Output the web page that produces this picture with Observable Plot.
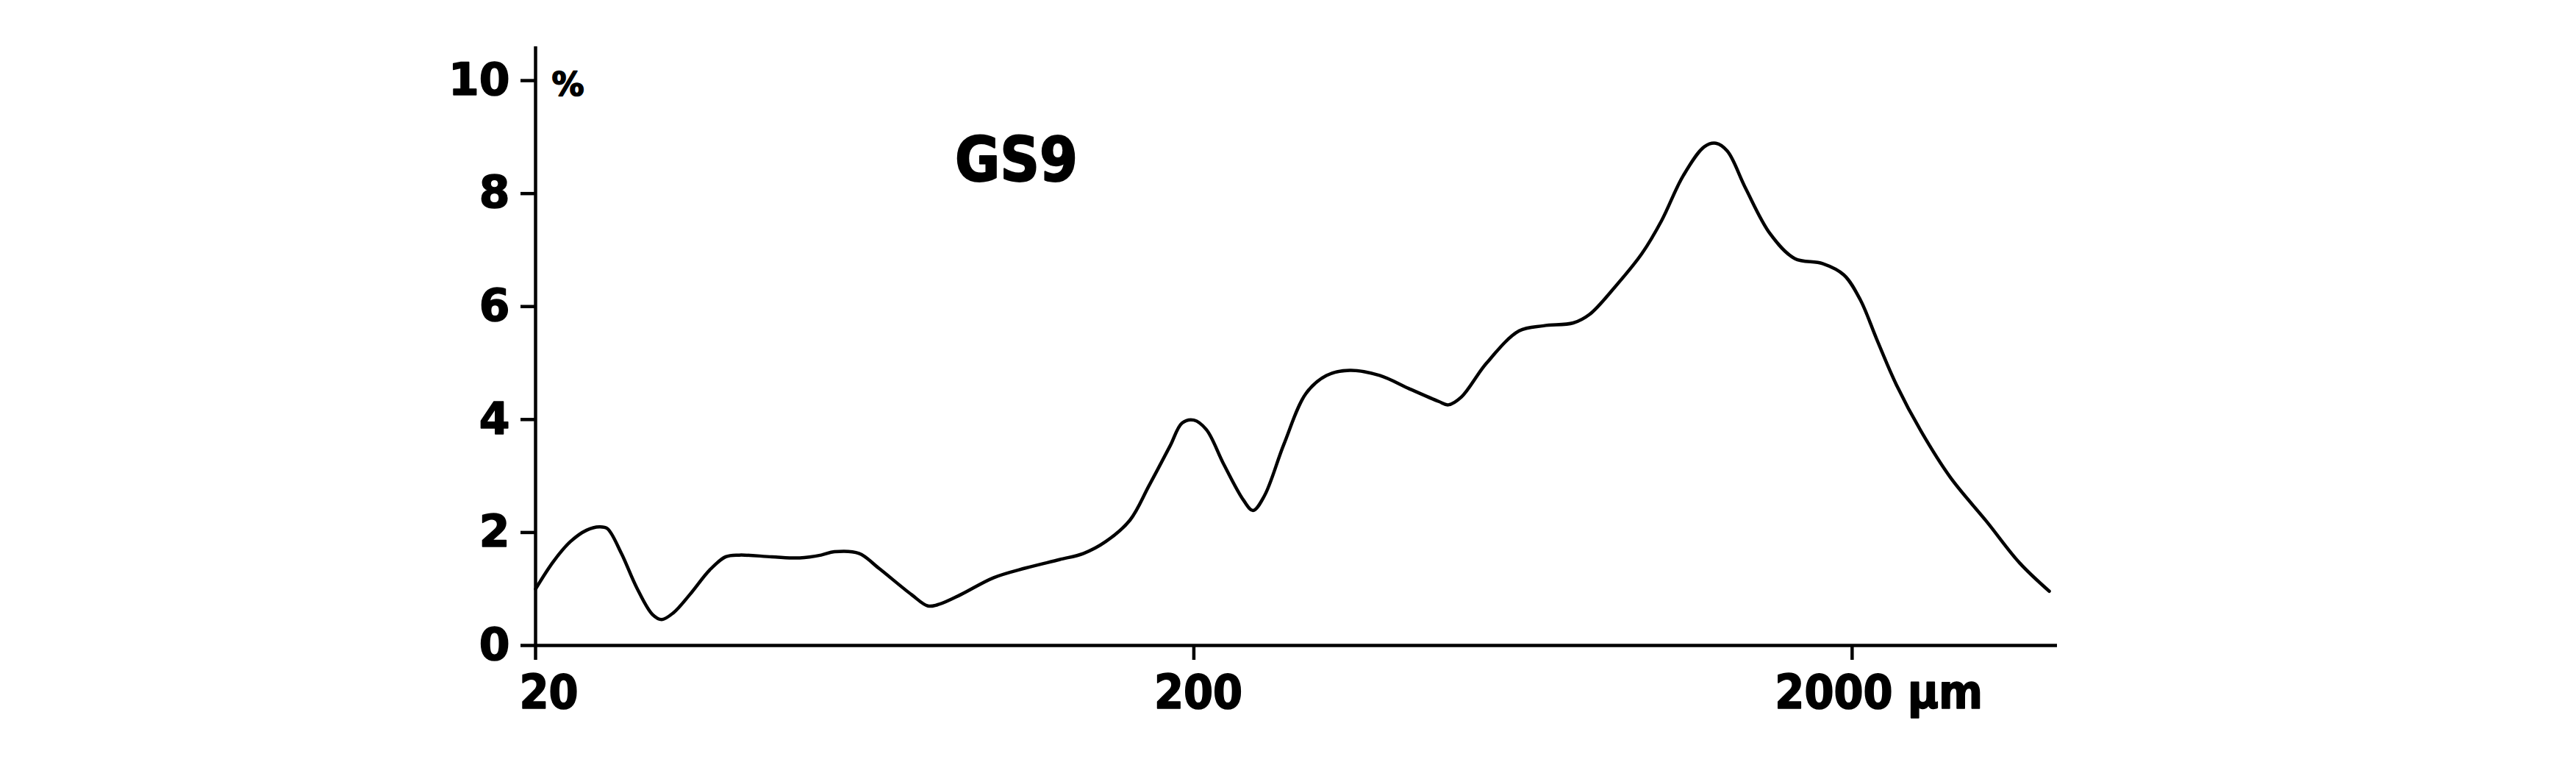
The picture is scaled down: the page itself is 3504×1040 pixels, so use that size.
<!DOCTYPE html>
<html>
<head>
<meta charset="utf-8">
<script src="https://cdn.jsdelivr.net/npm/d3@7"></script>
<script src="https://cdn.jsdelivr.net/npm/@observablehq/plot@0.6"></script>
<style>
  body { margin: 0; background: #fff; }
  #chart svg { display: block; background: #fff; }
</style>
</head>
<body>
<div id="chart"></div>
<script>
// grain size (µm) and share (%)
const sizes = [
  20, 21.3, 22.6, 23.9, 25.0, 25.7, 27.0, 28.5, 30.1, 31.1, 32.4, 34.3, 36.8,
  38.9, 40.8, 45.7, 50.4, 54.3, 56.9, 62.0, 66.4, 74.5, 78.9, 82.1, 88.5, 99.3,
  111, 125, 136, 147, 160, 171, 184, 192, 200, 209, 222, 238, 246, 256, 274,
  296, 318, 345, 383, 424, 471, 487, 510, 556, 624, 680, 754, 798, 870, 959,
  1027, 1107, 1193, 1242, 1293, 1377, 1501, 1636, 1804, 1943, 2058, 2180,
  2336, 2546, 2822, 3204, 3594, 3986,
];
const percents = [
  1.0, 1.49, 1.84, 2.04, 2.1, 2.07, 1.63, 1.02, 0.55, 0.46, 0.58, 0.9, 1.34,
  1.57, 1.6, 1.57, 1.55, 1.6, 1.66, 1.63, 1.37, 0.9, 0.7, 0.73, 0.9, 1.2,
  1.37, 1.52, 1.63, 1.84, 2.22, 2.83, 3.53, 3.94, 3.99, 3.82, 3.21, 2.57, 2.39,
  2.65, 3.56, 4.46, 4.78, 4.87, 4.78, 4.55, 4.32, 4.26, 4.4, 4.99, 5.57, 5.66,
  5.71, 5.86, 6.33, 6.94, 7.52, 8.31, 8.83, 8.89, 8.75, 8.1, 7.29, 6.85, 6.76,
  6.56, 6.12, 5.42, 4.61, 3.79, 2.97, 2.19, 1.46, 0.96,
];
const xTicks = [20, 200, 2000];
const xTickLabels = ["20", "200", "2000 µm"];
const yTicks = [0, 2, 4, 6, 8, 10];
const sampleName = "GS9";
const yUnit = "%";

const curve = sizes.map((s, i) => ({ size: s, pct: percents[i] }));

const boldFont = "DejaVu Sans";
const condFont = "DejaVu Sans Condensed";
// per-label horizontal nudges, as in the original figure
const xLabelShift = [-22, -54, -105];

// the original type is heavier than DejaVu Bold, so thicken it with a stroke
const heavy = { fill: "black", stroke: "black", strokeWidth: 1.6, fontWeight: "bold" };

const xLabelMarks = xTicks.map((t, i) =>
  Plot.text([xTickLabels[i]], {
    x: () => t,
    text: (d) => d,
    frameAnchor: "bottom",
    textAnchor: "start",
    lineAnchor: "top",
    dx: xLabelShift[i],
    dy: 40,
    fontSize: 64,
    fontFamily: condFont,
    ...heavy,
  }),
);

const chart = Plot.plot({
  width: 3504,
  height: 1040,
  marginLeft: 728,
  marginRight: 706,
  marginTop: 63,
  marginBottom: 163,
  x: { type: "log", domain: [20, 4100], axis: null },
  y: { domain: [0, 10.6], axis: null },
  marks: [
    Plot.axisY({
      ticks: yTicks,
      tickSize: 20,
      tickPadding: 15,
      strokeWidth: 4.5,
      fontSize: 60,
      fontWeight: "bold",
      fontFamily: boldFont,
      fill: "black",
      textStroke: "black",
      textStrokeWidth: 1.6,
      label: null,
    }),
    Plot.axisX({
      ticks: xTicks,
      tickSize: 20,
      strokeWidth: 4.5,
      tickFormat: () => "",
      label: null,
    }),
    ...xLabelMarks,
    Plot.ruleY([0], { stroke: "black", strokeWidth: 4.5 }),
    Plot.ruleX([20], { stroke: "black", strokeWidth: 4.5 }),
    Plot.line(curve, {
      x: "size",
      y: "pct",
      curve: "catmull-rom",
      stroke: "black",
      strokeWidth: 4.5,
    }),
    Plot.text([sampleName], {
      frameAnchor: "top-left",
      textAnchor: "middle",
      lineAnchor: "bottom",
      dx: 654,
      dy: 182,
      fontSize: 83,
      fontFamily: condFont,
      ...heavy,
      strokeWidth: 2,
    }),
    Plot.text([yUnit], {
      frameAnchor: "top-left",
      textAnchor: "start",
      lineAnchor: "bottom",
      dx: 22,
      dy: 66,
      fontSize: 44,
      fontFamily: boldFont,
      ...heavy,
    }),
  ],
});

document.getElementById("chart").appendChild(chart);
</script>
</body>
</html>
